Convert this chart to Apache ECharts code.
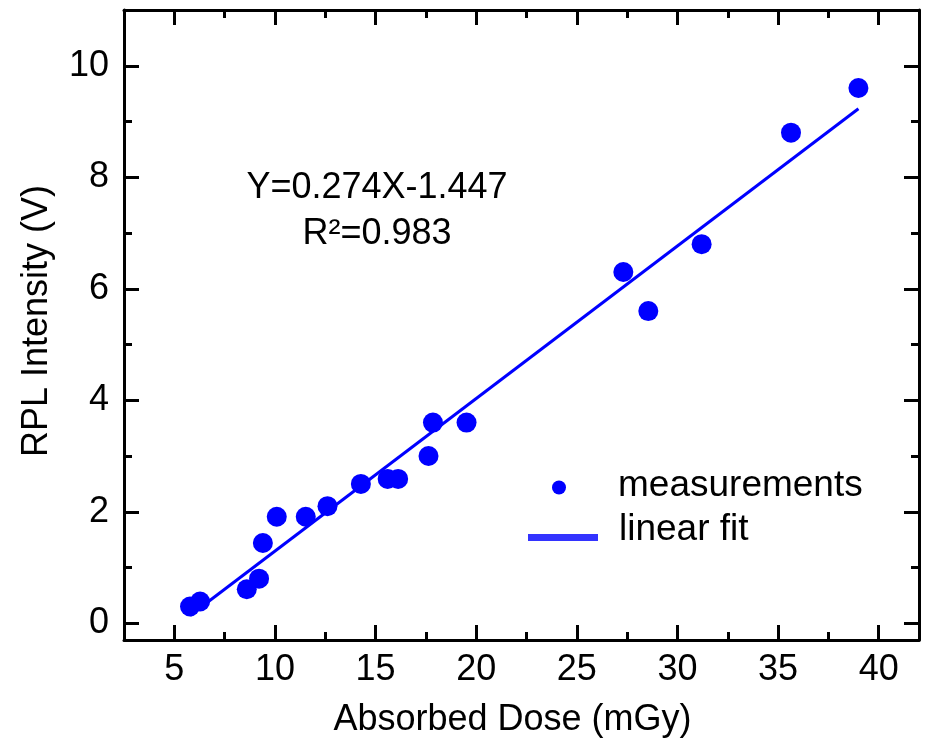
<!DOCTYPE html>
<html>
<head>
<meta charset="utf-8">
<script src="https://cdn.jsdelivr.net/npm/echarts@6/dist/echarts.min.js"></script>
<style>html,body{margin:0;padding:0;background:#fff;}#c{width:933px;height:747px;}</style>
</head>
<body>
<div id="c"></div>
<script>
// Data
var doseX = [5.78, 6.28, 8.6, 9.21, 9.40, 10.09, 11.53, 12.61, 14.27, 15.60, 16.12, 17.63, 17.85, 19.52, 27.31, 28.55, 31.20, 35.64, 38.99];
var intensityY = [0.30, 0.39, 0.61, 0.80, 1.44, 1.91, 1.91, 2.10, 2.50, 2.59, 2.59, 3.00, 3.60, 3.60, 6.30, 5.60, 6.80, 8.80, 9.60];
var fitX = [5.78, 38.99];
var fitY = [0.14, 9.23];
var xMajorTicks = [5, 10, 15, 20, 25, 30, 35, 40];
var xMinorTicks = [7.5, 12.5, 17.5, 22.5, 27.5, 32.5, 37.5];
var yMajorTicks = [0, 2, 4, 6, 8, 10];
var yMinorTicks = [1, 3, 5, 7, 9];
var equationText = 'Y=0.274X-1.447';
var r2Text = 'R\u00B2=0.983';

var FONT = 'Liberation Sans, Arial, sans-serif';
var measurements = doseX.map(function (x, i) { return [x, intensityY[i]]; });
var fitLine = fitX.map(function (x, i) { return [x, fitY[i]]; });

function xAx(pos, ticks, len, main) {
  return {
    type: 'value', gridIndex: 0, position: pos, min: 2.5, max: 42,
    axisLine: { show: main, onZero: false, lineStyle: { color: '#000', width: 3 } },
    axisTick: { show: true, inside: true, length: len, customValues: ticks, lineStyle: { color: '#000', width: 3 } },
    axisLabel: { show: false },
    splitLine: { show: false }
  };
}
function yAx(pos, ticks, len, main) {
  return {
    type: 'value', gridIndex: 0, position: pos, min: -0.3, max: 11,
    axisLine: { show: main, onZero: false, lineStyle: { color: '#000', width: 3 } },
    axisTick: { show: true, inside: true, length: len, customValues: ticks, lineStyle: { color: '#000', width: 3 } },
    axisLabel: { show: false },
    splitLine: { show: false }
  };
}

var xBottom = xAx('bottom', xMajorTicks, 15, true);
xBottom.axisLabel = { show: true, customValues: xMajorTicks, margin: 12, fontSize: 36, color: '#000', fontFamily: FONT };
xBottom.name = 'Absorbed Dose (mGy)';
xBottom.nameLocation = 'middle';
xBottom.nameGap = 62;
xBottom.nameTextStyle = { fontSize: 36, color: '#000', fontFamily: FONT, padding: [0, 18, 0, 0] };

var yLeft = yAx('left', yMajorTicks, 15, true);
yLeft.axisLabel = { show: true, customValues: yMajorTicks, margin: 15, fontSize: 36, color: '#000', fontFamily: FONT };
yLeft.name = 'RPL Intensity (V)';
yLeft.nameLocation = 'middle';
yLeft.nameGap = 69;
yLeft.nameTextStyle = { fontSize: 36, color: '#000', fontFamily: FONT, padding: [0, 0, 0, 8] };

var chart = echarts.init(document.getElementById('c'), null, { renderer: 'canvas' });
chart.setOption({
  backgroundColor: '#fff',
  animation: false,
  grid: { left: 124, right: 14, top: 10, bottom: 107, containLabel: false },
  xAxis: [xBottom, xAx('bottom', xMinorTicks, 8, false), xAx('top', xMajorTicks, 15, true), xAx('top', xMinorTicks, 8, false)],
  yAxis: [yLeft, yAx('left', yMinorTicks, 8, false), yAx('right', yMajorTicks, 15, true), yAx('right', yMinorTicks, 8, false)],
  legend: [
    {
      data: [{ name: 'measurements', icon: 'circle', itemStyle: { color: '#0000ff' } }],
      left: 552, top: 467, padding: 0, itemWidth: 62, itemHeight: 14, selectedMode: false,
      formatter: function (name) { return '{s|}' + name; },
      textStyle: { fontSize: 37, color: '#000', fontFamily: FONT, padding: [0, 0, 4, 0], rich: { s: { width: 23 } } }
    },
    {
      data: [{ name: 'linear fit', icon: 'rect', itemStyle: { color: '#3333ff' } }],
      left: 528, top: 511, padding: 0, itemWidth: 70, itemHeight: 7, selectedMode: false,
      formatter: function (name) { return '{s|}' + name; },
      textStyle: { fontSize: 37, color: '#000', fontFamily: FONT, padding: [0, 0, 16, 0], rich: { s: { width: 16 } } }
    }
  ],
  series: [
    {
      name: 'linear fit', type: 'line', xAxisIndex: 0, yAxisIndex: 0, data: fitLine,
      showSymbol: false, symbol: 'none', color: '#0000ff',
      lineStyle: { color: '#0000ff', width: 3 }, z: 2
    },
    {
      name: 'measurements', type: 'scatter', xAxisIndex: 0, yAxisIndex: 0, data: measurements,
      symbol: 'circle', symbolSize: 20, itemStyle: { color: '#0000ff', opacity: 1 }, z: 3
    }
  ],
  graphic: [
    { type: 'text', x: 377, y: 188, style: { text: equationText, font: '36px ' + FONT, fill: '#000', align: 'center', verticalAlign: 'middle' } },
    { type: 'text', x: 377, y: 234, style: { text: r2Text, font: '36px ' + FONT, fill: '#000', align: 'center', verticalAlign: 'middle' } }
  ]
});
</script>
</body>
</html>
